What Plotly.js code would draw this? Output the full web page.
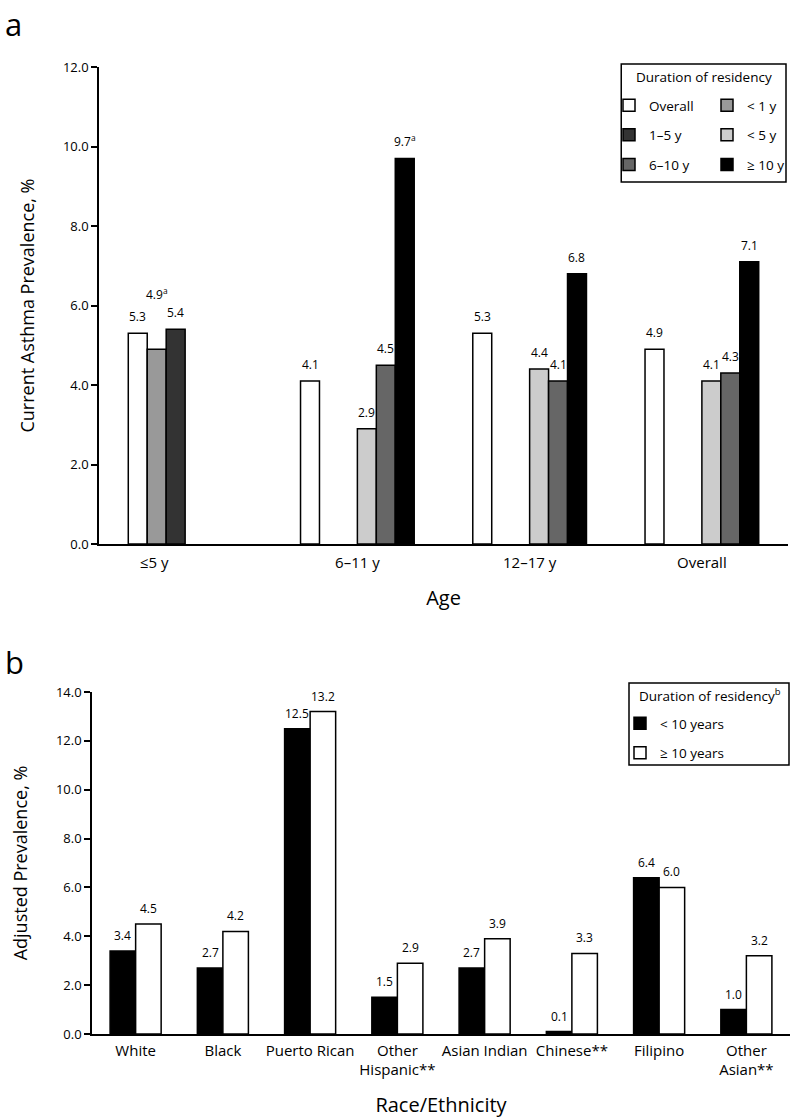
<!DOCTYPE html>
<html>
<head>
<meta charset="utf-8">
<script src="https://cdn.plot.ly/plotly-3.0.1.min.js"></script>
<style>
body { margin: 0; background: #fff; }
#panelA { width: 790px; height: 640px; }
#panelB { width: 790px; height: 478px; }
</style>
</head>
<body>
<div id="panelA"></div>
<div id="panelB"></div>
<script>
// Panel a: current asthma prevalence by age and duration of residency
var ageGroups = ['≤5 y', '6–11 y', '12–17 y', 'Overall'];
var namesA = ['Overall', '< 1 y', '1–5 y', '< 5 y', '6–10 y', '≥ 10 y'];
var overallA = [5.3, 4.1, 5.3, 4.9];
var under1 = [4.9, null, null, null];
var from1to5 = [5.4, null, null, null];
var under5 = [null, 2.9, 4.4, 4.1];
var from6to10 = [null, 4.5, 4.1, 4.3];
var atLeast10A = [null, 9.7, 6.8, 7.1];
// footnote letters on some of the bar labels
var notesA = {'< 1 y': ['a', '', '', ''], '≥ 10 y': ['', 'a', '', '']};

// Panel b: adjusted prevalence by race/ethnicity
var ethnicGroups = ['White', 'Black', 'Puerto Rican', 'Other<br>Hispanic**', 'Asian Indian',
                    'Chinese**', 'Filipino', 'Other<br>Asian**'];
var namesB = ['< 10 years', '≥ 10 years'];
var under10 = [3.4, 2.7, 12.5, 1.5, 2.7, 0.1, 6.4, 1.0];
var atLeast10B = [4.5, 4.2, 13.2, 2.9, 3.9, 3.3, 6.0, 3.2];

var FONT = '"Open Sans", "DejaVu Sans", sans-serif';
var W = 790;

// ---------- panel a ----------
var seriesA = [overallA, under1, from1to5, under5, from6to10, atLeast10A];
var colorsA = ['#ffffff', '#999999', '#333333', '#cccccc', '#666666', '#000000'];
var gapA = 0.34;
var HA = 640;
var mA = {l: 99, r: 1, t: 67, b: 96};
function pxA(x) { return (x - mA.l) / (W - mA.l - mA.r); }
function pyA(y) { return (HA - mA.b - y) / (HA - mA.t - mA.b); }

var tracesA = seriesA.map(function (vals, i) {
    return {
        type: 'bar',
        x: [0, 1, 2, 3],
        y: vals,
        name: namesA[i],
        legend: i % 2 === 0 ? 'legend' : 'legend2',
        legendgroup: 'g' + i,
        marker: {color: colorsA[i], line: {color: '#000', width: 1.5}},
        hoverinfo: 'skip'
    };
});

var annA = [];
seriesA.forEach(function (vals, i) {
    var off = (i - (seriesA.length - 1) / 2) * (1 - gapA) / seriesA.length;
    vals.forEach(function (v, j) {
        if (v === null) return;
        var note = (notesA[namesA[i]] || [])[j] || '';
        annA.push({
            x: j + off, y: v, xref: 'x', yref: 'y',
            text: v.toFixed(1) + (note ? '<sup>' + note + '</sup>' : ''),
            showarrow: false, yanchor: 'bottom',
            yshift: namesA[i] === '< 1 y' ? 44 : 6,
            font: {size: 12}
        });
    });
});
annA.push({
    xref: 'paper', yref: 'paper', x: pxA(3), y: pyA(24), xanchor: 'left', yanchor: 'middle',
    text: 'a', showarrow: false, font: {size: 31}
});
annA.push({
    xref: 'paper', yref: 'paper', x: pxA(704.5), y: pyA(77), xanchor: 'center', yanchor: 'middle',
    text: 'Duration of residency', showarrow: false, font: {size: 13.5}
});

var legendA = {
    xanchor: 'left', yanchor: 'top', bgcolor: 'rgba(0,0,0,0)', borderwidth: 0,
    font: {size: 13.5}, traceorder: 'grouped', tracegroupgap: 9
};

var layoutA = {
    width: W, height: HA,
    margin: mA,
    font: {family: FONT, color: '#000'},
    paper_bgcolor: '#fff', plot_bgcolor: '#fff',
    barmode: 'group', bargap: gapA, bargroupgap: 0,
    showlegend: true,
    legend: Object.assign({x: pxA(609), y: pyA(90)}, legendA),
    legend2: Object.assign({x: pxA(707), y: pyA(90)}, legendA),
    xaxis: {
        range: [-0.5, 3.5],
        tickmode: 'array', tickvals: [-0.18, 1, 2, 3], ticktext: ageGroups,
        ticks: '', showgrid: false, zeroline: false,
        showline: true, linecolor: '#000', linewidth: 1.5,
        tickfont: {size: 15}, ticklabelstandoff: 4,
        title: {text: 'Age', font: {size: 20}, standoff: 20}
    },
    yaxis: {
        range: [0, 12], dtick: 2, tickformat: '.1f',
        ticks: 'outside', ticklen: 6, tickwidth: 1.5, tickcolor: '#000',
        showgrid: false, zeroline: false,
        showline: true, linecolor: '#000', linewidth: 1.5,
        tickfont: {size: 13},
        title: {text: 'Current Asthma Prevalence, %', font: {size: 18}, standoff: 24}
    },
    shapes: [{
        type: 'rect', xref: 'paper', yref: 'paper',
        x0: pxA(622), x1: pxA(787), y0: pyA(64), y1: pyA(182),
        line: {color: '#000', width: 1.5}
    }],
    annotations: annA
};

Plotly.newPlot('panelA', tracesA, layoutA, {displayModeBar: false});

// ---------- panel b ----------
var seriesB = [under10, atLeast10B];
var colorsB = ['#000000', '#ffffff'];
var gapB = 0.415;
var HB = 478;
var mB = {l: 92, r: 0, t: 52, b: 84};
function pxB(x) { return (x - mB.l) / (W - mB.l - mB.r); }
function pyB(y) { return (HB - mB.b - y) / (HB - mB.t - mB.b); }

var tracesB = seriesB.map(function (vals, i) {
    return {
        type: 'bar',
        x: ethnicGroups,
        y: vals,
        name: namesB[i],
        legendgroup: 'h' + i,
        marker: {color: colorsB[i], line: {color: '#000', width: 1.5}},
        hoverinfo: 'skip'
    };
});

var annB = [];
seriesB.forEach(function (vals, i) {
    var off = (i - (seriesB.length - 1) / 2) * (1 - gapB) / seriesB.length;
    vals.forEach(function (v, j) {
        annB.push({
            x: j + off, y: v, xref: 'x', yref: 'y',
            text: v.toFixed(1), showarrow: false, yanchor: 'bottom', yshift: 5,
            font: {size: 12}
        });
    });
});
annB.push({
    xref: 'paper', yref: 'paper', x: pxB(3), y: pyB(22), xanchor: 'left', yanchor: 'middle',
    text: 'b', showarrow: false, font: {size: 31}
});
annB.push({
    xref: 'paper', yref: 'paper', x: pxB(637), y: pyB(55), xanchor: 'left', yanchor: 'middle',
    text: 'Duration of residency<sup>b</sup>', showarrow: false, font: {size: 13.5}
});

var layoutB = {
    width: W, height: HB,
    margin: mB,
    font: {family: FONT, color: '#000'},
    paper_bgcolor: '#fff', plot_bgcolor: '#fff',
    barmode: 'group', bargap: gapB, bargroupgap: 0,
    showlegend: true,
    legend: {
        x: pxB(620), y: pyB(68), xanchor: 'left', yanchor: 'top',
        bgcolor: 'rgba(0,0,0,0)', borderwidth: 0,
        font: {size: 13.5}, traceorder: 'grouped', tracegroupgap: 9
    },
    xaxis: {
        type: 'category',
        ticks: '', showgrid: false, zeroline: false,
        showline: true, linecolor: '#000', linewidth: 1.5,
        tickfont: {size: 15}, ticklabelstandoff: 2,
        title: {text: 'Race/Ethnicity', font: {size: 20}, standoff: 21}
    },
    yaxis: {
        range: [0, 14], dtick: 2, tickformat: '.1f',
        ticks: 'outside', ticklen: 6, tickwidth: 1.5, tickcolor: '#000',
        showgrid: false, zeroline: false,
        showline: true, linecolor: '#000', linewidth: 1.5,
        tickfont: {size: 13},
        title: {text: 'Adjusted Prevalence, %', font: {size: 18}, standoff: 24}
    },
    shapes: [{
        type: 'rect', xref: 'paper', yref: 'paper',
        x0: pxB(629), x1: pxB(789), y0: pyB(43), y1: pyB(125),
        line: {color: '#000', width: 1.5}
    }],
    annotations: annB
};

Plotly.newPlot('panelB', tracesB, layoutB, {displayModeBar: false});
</script>
</body>
</html>
